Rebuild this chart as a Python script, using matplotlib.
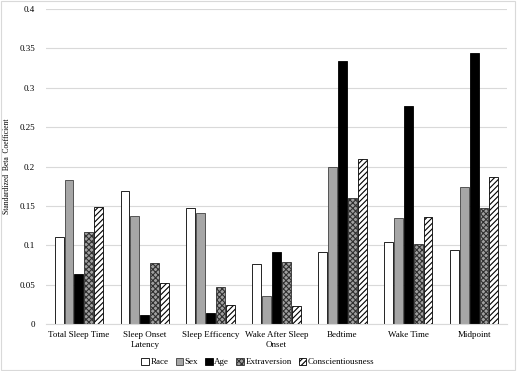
import matplotlib.pyplot as plt
import numpy as np
from matplotlib.patches import Rectangle
from matplotlib.ticker import FuncFormatter, MultipleLocator

plt.rcParams["font.family"] = ["Liberation Serif", "DejaVu Serif"]
plt.rcParams["hatch.linewidth"] = 0.8

categories = [
    "Total Sleep Time",
    "Sleep Onset\nLatency",
    "Sleep Efficency",
    "Wake After Sleep\nOnset",
    "Bedtime",
    "Wake Time",
    "Midpoint",
]
race = [0.111, 0.169, 0.147, 0.076, 0.091, 0.104, 0.094]
sex = [0.183, 0.137, 0.141, 0.035, 0.200, 0.134, 0.174]
age = [0.063, 0.012, 0.014, 0.092, 0.334, 0.277, 0.344]
extraversion = [0.117, 0.078, 0.047, 0.079, 0.160, 0.101, 0.147]
conscientiousness = [0.149, 0.052, 0.024, 0.023, 0.210, 0.136, 0.187]

series = [
    ("Race", race, dict(facecolor="white", edgecolor="black", hatch=None)),
    ("Sex", sex, dict(facecolor="#a6a6a6", edgecolor="#404040", hatch=None)),
    ("Age", age, dict(facecolor="black", edgecolor="black", hatch=None)),
    ("Extraversion", extraversion, dict(facecolor="#a0a0a0", edgecolor="#303030", hatch="xxxxxx")),
    ("Conscientiousness", conscientiousness, dict(facecolor="white", edgecolor="black", hatch="//////")),
]

fig = plt.figure(figsize=(5.17, 3.71), dpi=100)
ax = fig.add_axes([46 / 517, 1 - 324 / 371, 461 / 517, 315 / 371])

x = np.arange(len(categories))
step = 0.15
width = 0.135
for i, (name, values, style) in enumerate(series):
    ax.bar(x + (i - 2) * step, values, width, label=name, linewidth=0.6, **style)

ax.set_xlim(-0.5, len(categories) - 0.5)
ax.set_ylim(0, 0.4)
ax.yaxis.set_major_locator(MultipleLocator(0.05))
ax.yaxis.set_major_formatter(FuncFormatter(lambda v, _: f"{v:g}"))
ax.set_xticks(x)
ax.set_xticklabels(categories, fontsize=6.5, linespacing=1.3)
ax.tick_params(axis="y", labelsize=6.5, length=0, pad=8)
ax.tick_params(axis="x", length=0, pad=5)
ax.grid(axis="y", color="#d9d9d9", linewidth=0.8)
ax.set_axisbelow(True)
for side in ["top", "right", "left"]:
    ax.spines[side].set_visible(False)
ax.spines["bottom"].set_color("#d9d9d9")
ax.set_ylabel("Standardized  Beta  Coefficient", fontsize=5.5, labelpad=6)

fig.legend(
    loc="center",
    bbox_to_anchor=(258 / 517, 1 - 362 / 371),
    ncol=5,
    frameon=False,
    fontsize=6.5,
    handlelength=0.8,
    handleheight=0.8,
    handletextpad=0.2,
    columnspacing=0.8,
)

fig.patches.append(Rectangle((0.002, 0.003), 0.995, 0.994, transform=fig.transFigure,
                             fill=False, edgecolor="#d9d9d9", linewidth=0.8))

fig.savefig("out.png", dpi=100)
